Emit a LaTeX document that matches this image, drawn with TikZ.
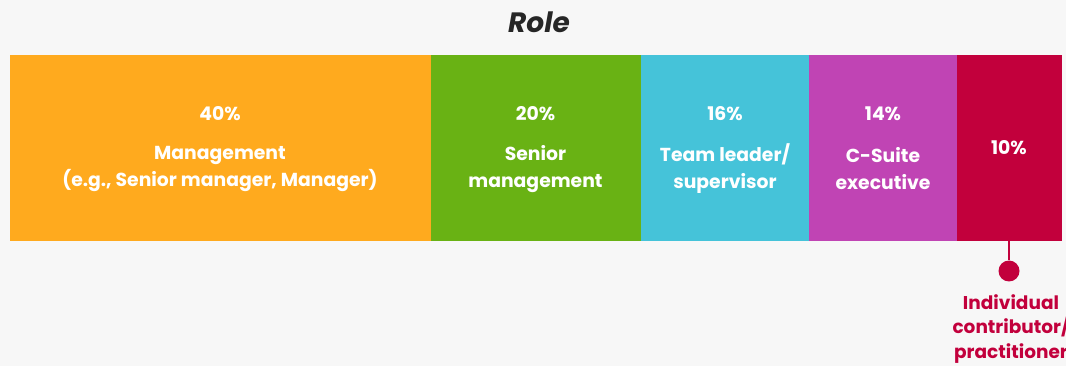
\documentclass[tikz,border=0pt]{standalone}
\usepackage{fontspec}
\setmainfont{Poppins}
\definecolor{bg}{HTML}{F7F7F7}
\definecolor{corange}{HTML}{FFAA1E}
\definecolor{cgreen}{HTML}{69B214}
\definecolor{ccyan}{HTML}{45C3D9}
\definecolor{cmag}{HTML}{C044B4}
\definecolor{cred}{HTML}{C2003C}
\begin{document}
\begin{tikzpicture}[x=1pt,y=-1pt,
  lbl/.style={text=white, font=\fontsize{18.8}{27}\selectfont\bfseries, align=center, inner sep=0pt},
  pct/.style={text=white, font=\fontsize{18.8}{27}\selectfont\bfseries, inner sep=0pt}]
\fill[bg] (0,0) rectangle (1066,366);
\useasboundingbox (0,0) rectangle (1066,366);
\node[font=\fontsize{28}{34}\selectfont\bfseries\itshape, text=black!85] (title) at (539,22) {Role};
\fill[corange] (9.5,55) rectangle (430.5,241);
\fill[cgreen] (430.5,55) rectangle (641,241);
\fill[ccyan] (641,55) rectangle (809,241);
\fill[cmag] (809,55) rectangle (957,241);
\fill[cred] (957,55) rectangle (1062,241);
\coordinate (rb) at (1009,241);
\node[pct] (p1) at (220,114) {40\%};
\node[lbl] (l1) at (220,169) {Management\\(e.g., Senior manager, Manager)};
\node[pct] (p2) at (535.5,114) {20\%};
\node[lbl] (l2) at (535.5,169) {Senior\\management};
\node[pct] (p3) at (725,114) {16\%};
\node[lbl] (l3) at (725,169) {Team leader/\\supervisor};
\node[pct] (p4) at (883,114) {14\%};
\node[lbl] (l4) at (883,169) {C-Suite\\executive};
\node[pct] (p5) at (1009,148) {10\%};
\node[circle, fill=cred, minimum size=21pt, inner sep=0pt] (dot) at (1009,271) {};
\draw[cred, line width=2.5pt] (rb) -- (dot);
\node[text=cred, font=\fontsize{18.5}{24.5}\selectfont\bfseries, align=center, inner sep=0pt] (ind) at (1011,329) {Individual\\contributor/\\practitioner};
\end{tikzpicture}
\end{document}
